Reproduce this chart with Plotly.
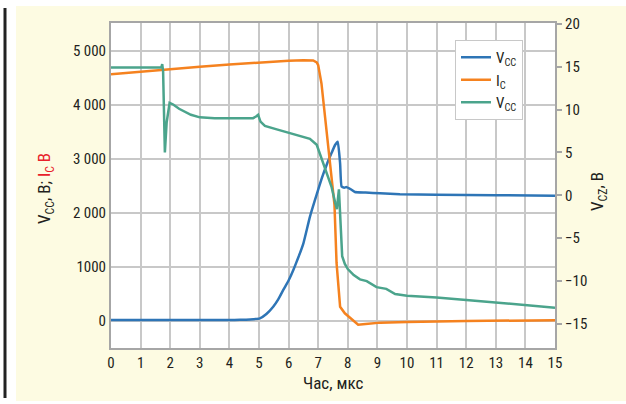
import plotly.graph_objects as go

# ---- data ----
x_ticks = list(range(0, 16))
left_tickvals = [0, 1000, 2000, 3000, 4000, 5000]
left_ticktext = ["0", "1000", "2 000", "3 000", "4 000", "5 000"]
right_tickvals = [-15, -10, -5, 0, 5, 10, 15, 20]

vcc_x = [0, 4.0, 4.36, 4.7, 5.03, 5.25, 5.48, 5.65, 5.82, 6.0, 6.16, 6.33, 6.5, 6.72, 6.95, 7.12, 7.29, 7.45, 7.57, 7.66, 7.74, 7.79, 7.88, 7.96, 8.1, 8.24, 8.6, 9.09, 9.76, 11, 13, 15]
vcc_y = [20, 20, 22, 30, 50, 130, 265, 400, 575, 750, 945, 1180, 1440, 1930, 2345, 2640, 2900, 3110, 3260, 3320, 2920, 2490, 2470, 2480, 2440, 2390, 2380, 2365, 2350, 2340, 2330, 2320]

ic_x = [0, 1, 2, 3, 4, 5, 6, 6.5, 6.83, 6.95, 7.0, 7.11, 7.23, 7.34, 7.46, 7.55, 7.62, 7.68, 7.74, 7.9, 8.1, 8.35, 8.6, 9.1, 10, 12, 15]
ic_y = [4570, 4620, 4665, 4710, 4750, 4790, 4820, 4830, 4825, 4790, 4740, 4400, 3780, 3170, 2600, 2150, 1075, 575, 265, 143, 40, -70, -55, -30, -20, 0, 15]

vcz_x = [0, 1.70, 1.73, 1.76, 1.82, 1.88, 1.98, 2.1, 2.3, 2.7, 3.0, 3.5, 4.0, 4.8, 4.9, 4.97, 5.05, 5.2, 5.6, 6.0, 6.4, 6.72, 6.95, 7.1, 7.29, 7.45, 7.57, 7.63, 7.7, 7.74, 7.81, 7.9, 8.0, 8.2, 8.41, 8.64, 8.8, 8.97, 9.3, 9.45, 9.6, 10, 11, 12, 13, 14, 15]
vcz_y = [14.9, 14.9, 15.3, 14.5, 5.0, 8.5, 10.8, 10.6, 10.1, 9.4, 9.1, 9.0, 9.0, 9.0, 9.2, 9.4, 8.6, 8.1, 7.7, 7.3, 6.9, 6.6, 5.9, 4.5, 2.6, 1.0, -0.8, -1.6, 0.7, -1.8, -7.1, -8.0, -8.6, -9.3, -9.8, -10.0, -10.3, -10.7, -10.9, -11.2, -11.5, -11.7, -11.9, -12.2, -12.5, -12.8, -13.1]

FONT = "Liberation Sans Narrow, Roboto Condensed, Arial Narrow, Liberation Sans, sans-serif"
TXT = "#231f20"
GRID = "#c8c8c8"
BORDER = "#a6a6a6"

fig = go.Figure()
fig.add_trace(go.Scatter(x=vcc_x, y=vcc_y, mode="lines", name="V<sub>CC</sub>",
                         line=dict(color="#2e75b6", width=2.5, shape="spline", smoothing=0.4)))
fig.add_trace(go.Scatter(x=ic_x, y=ic_y, mode="lines", name="I<sub>C</sub>",
                         line=dict(color="#f5821f", width=2.5)))
fig.add_trace(go.Scatter(x=vcz_x, y=vcz_y, mode="lines", name="V<sub>CC</sub>", yaxis="y2",
                         line=dict(color="#4ba48c", width=2.5)))

L, R, T, B = 111, 71, 23, 56
W, H = 626, 404
pw, ph = W - L - R, H - T - B

def px(xp):
    return (xp - L) / pw

def py(yp):
    return (H - B - yp) / ph

fig.update_layout(
    width=W, height=H,
    margin=dict(l=L, r=R, t=T, b=B, autoexpand=False),
    paper_bgcolor="white", plot_bgcolor="white",
    font=dict(family=FONT, size=14, color=TXT),
    showlegend=True,
    legend=dict(x=px(455), y=py(40), xanchor="left", yanchor="top",
                bgcolor="white", bordercolor="#c8c8c8", borderwidth=1,
                font=dict(size=15), tracegroupgap=0, itemwidth=30),
    xaxis=dict(range=[0, 15], tickvals=x_ticks, showgrid=True, gridcolor=GRID, gridwidth=1.5,
               showline=True, linecolor=BORDER, linewidth=2, mirror=True, ticks="",
               zeroline=False, tickfont=dict(size=15)),
    yaxis=dict(range=[-500, 5520], tickvals=left_tickvals, ticktext=left_ticktext,
               showgrid=True, gridcolor=GRID, gridwidth=1.5, showline=True, linecolor=BORDER,
               linewidth=2, mirror=True, ticks="", zeroline=False, tickfont=dict(size=15)),
    yaxis2=dict(range=[-17.8, 20.1], tickvals=right_tickvals, overlaying="y", side="right",
                showgrid=False, zeroline=False, ticks="outside", ticklen=6, tickcolor=BORDER,
                tickwidth=1.5, showline=False, tickfont=dict(size=15)),
    shapes=[
        dict(type="rect", xref="paper", yref="paper", x0=px(16), x1=px(640), y0=py(401), y1=py(6),
             fillcolor="#fdfbe2", line=dict(width=0), layer="below"),
        dict(type="rect", xref="paper", yref="paper", x0=0, x1=1, y0=0, y1=1,
             fillcolor="white", line=dict(width=0), layer="below"),
        dict(type="line", xref="paper", yref="paper", x0=px(5), x1=px(5), y0=py(398), y1=py(8),
             line=dict(color="#222222", width=3)),
    ],
    annotations=[
        dict(xref="paper", yref="paper", x=px(45), y=py(189), textangle=-90, showarrow=False,
             xanchor="center", yanchor="middle",
             text="V<sub>CC</sub>, В; <span style='color:#e8202a'>I<sub>C</sub> В</span>",
             font=dict(size=17, color=TXT)),
        dict(xref="paper", yref="paper", x=px(598), y=py(192), textangle=-90, showarrow=False,
             xanchor="center", yanchor="middle",
             text="V<sub>CZ</sub>, В", font=dict(size=17, color=TXT)),
        dict(xref="paper", yref="paper", x=0.5, y=py(383), showarrow=False,
             xanchor="center", yanchor="middle",
             text="Час, мкс", font=dict(size=17, color=TXT)),
    ],
)

fig.write_html("out.html")
